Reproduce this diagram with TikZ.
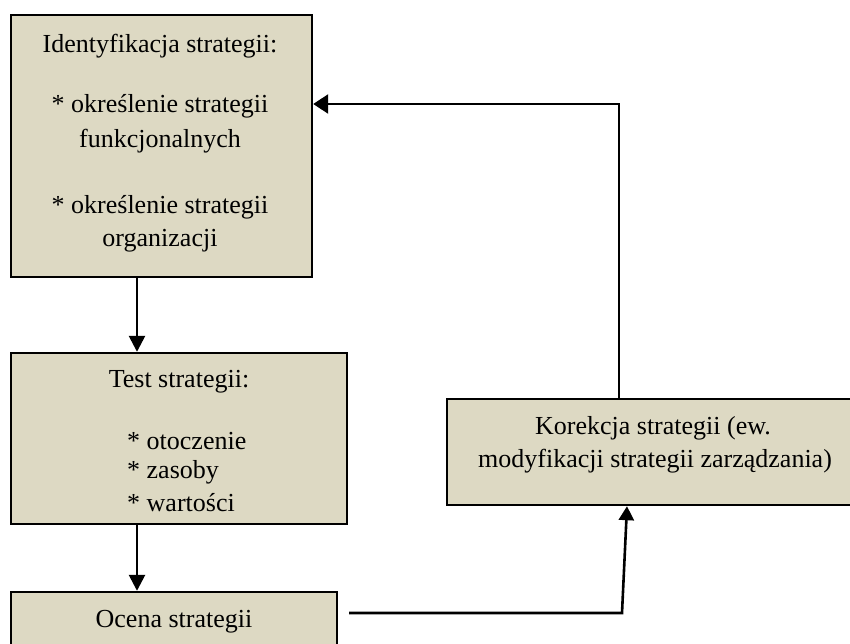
\documentclass[tikz,border=0pt]{standalone}
\usepackage{fontspec}
\setmainfont{Liberation Serif}
\usetikzlibrary{arrows.meta}
\definecolor{boxfill}{HTML}{DDD9C3}
\begin{document}
\begin{tikzpicture}[x=1pt,y=-1pt,
  box/.style={draw=black, fill=boxfill, line width=2.4pt, inner sep=0pt, anchor=center},
  txt/.style={inner sep=0pt, anchor=base, font=\fontsize{26}{30}\selectfont},
  txtl/.style={txt, anchor=base west},
  link/.style={line width=2.6pt},
  arr/.style={link, -{Triangle[length=16pt,width=16pt]}}]
\useasboundingbox (0,0) rectangle (850,644);
\clip (0,0) rectangle (850,644);

% boxes
\node[box, minimum width=301pt, minimum height=262pt] (b1) at (161.5,146) {};
\node[box, minimum width=336pt, minimum height=171pt] (b2) at (179,438.5) {};
\node[box, minimum width=326pt, minimum height=88pt]  (b3) at (174,636) {};
\node[box, minimum width=415pt, minimum height=106pt] (b4) at (654.5,452) {};

% texts of the first box
\node[txt] (t11) at (160,53)  {Identyfikacja strategii:};
\node[txt] (t12) at (160,113) {* określenie strategii};
\node[txt] (t13) at (160,148) {funkcjonalnych};
\node[txt] (t14) at (160,214) {* określenie strategii};
\node[txt] (t15) at (160,246) {organizacji};

% texts of the test box
\node[txt]  (t21) at (179,387) {Test strategii:};
\node[txtl] (t22) at (127,449) {* otoczenie};
\node[txtl] (t23) at (127,478) {* zasoby};
\node[txtl] (t24) at (127,511) {* wartości};

% evaluation box
\node[txt] (t31) at (174,627) {Ocena strategii};

% correction box
\node[txt] (t41) at (653,434) {Korekcja strategii (ew.};
\node[txt] (t42) at (655,467) {modyfikacji strategii zarządzania)};

% connectors
\coordinate (cx) at (137,0);
\draw[arr] (b1.south -| cx) -- (b2.north -| cx);
\draw[arr] (b2.south -| cx) -- (b3.north -| cx);

\coordinate (fx) at (619,0);
\coordinate (fy) at (0,104);
\draw[link, -{Triangle[length=15pt,width=19pt]}]
  (b4.north -| fx) |- (b1.east |- fy);

\coordinate (s) at (349,613);
\coordinate (k) at (622,613);
\coordinate (kx) at (627,0);
\draw[link, -{Triangle[length=14pt,width=15pt]}]
  (s) -- (k) -- (b4.south -| kx);
\end{tikzpicture}
\end{document}
